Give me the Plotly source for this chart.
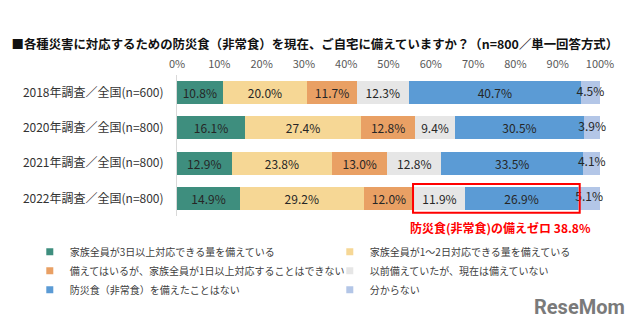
import plotly.graph_objects as go

categories = ["2018年調査／全国(n=600)", "2020年調査／全国(n=800)",
              "2021年調査／全国(n=800)", "2022年調査／全国(n=800)"]
series_names = ["家族全員が3日以上対応できる量を備えている",
                "家族全員が1～2日対応できる量を備えている",
                "備えてはいるが、家族全員が1日以上対応することはできない",
                "以前備えていたが、現在は備えていない",
                "防災食（非常食）を備えたことはない",
                "分からない"]
s1 = [10.8, 16.1, 12.9, 14.9]
s2 = [20.0, 27.4, 23.8, 29.2]
s3 = [11.7, 12.8, 13.0, 12.0]
s4 = [12.3, 9.4, 12.8, 11.9]
s5 = [40.7, 30.5, 33.5, 26.9]
s6 = [4.5, 3.9, 4.1, 5.1]
tick_vals = [0, 10, 20, 30, 40, 50, 60, 70, 80, 90, 100]
colors = ["#3E8E7E", "#F6D795", "#E9A064", "#E6E6E6", "#5B9BD5", "#B3C6E7"]

series = [s1, s2, s3, s4, s5, s6]
FONT = "Noto Sans CJK JP"

fig = go.Figure()
for i, (name, vals, col) in enumerate(zip(series_names, series, colors)):
    narrow = i == len(series) - 1
    fig.add_trace(go.Bar(
        y=categories, x=vals, orientation="h", name=name,
        marker=dict(color=col, line=dict(width=0)),
        text=None if narrow else [f"{v:.1f}%" for v in vals],
        textposition="inside",
        insidetextanchor="middle", textangle=0,
        textfont=dict(size=12, color="#262626", family=FONT),
        showlegend=False, hoverinfo="skip"))

# labels for the narrow last segment (allowed to overflow the bar)
starts = [sum(s[j] for s in series[:-1]) for j in range(len(categories))]
fig.add_trace(go.Scatter(
    x=[st + v / 2 for st, v in zip(starts, s6)], y=categories, mode="text",
    text=[f"{v:.1f}%" for v in s6], textposition="middle center",
    textfont=dict(size=12, color="#262626", family=FONT),
    cliponaxis=False, showlegend=False, hoverinfo="skip"))

# legend entries (small square markers)
for name, col in zip(series_names, colors):
    fig.add_trace(go.Scatter(
        x=[None], y=[None], mode="markers", name=name,
        marker=dict(symbol="square", size=7, color=col), showlegend=True))

# red box around "zero preparation" segments of 2022
last = len(categories) - 1
x0 = s1[last] + s2[last] + s3[last]
x1 = x0 + s4[last] + s5[last]
fig.add_shape(type="rect", xref="x", yref="y",
              x0=x0 - 0.3, x1=x1 + 0.3, y0=last - 0.41, y1=last + 0.41,
              line=dict(color="#FF0000", width=2), fillcolor="rgba(0,0,0,0)")
zero_total = s4[last] + s5[last]
fig.add_annotation(xref="x", yref="paper", x=x0 - 1.5, y=-0.085,
                   xanchor="left", yanchor="middle", showarrow=False,
                   text=f"<b>防災食(非常食)の備えゼロ {zero_total:.1f}%</b>",
                   font=dict(size=12, color="#FF0000", family=FONT))

# logo text
fig.add_annotation(xref="paper", yref="paper", x=1.065, y=-0.645,
                   xanchor="right", yanchor="middle", showarrow=False,
                   text="<b>ReseMom</b>",
                   font=dict(size=20, color="#7A7A7A", family="Roboto"))

fig.update_layout(
    width=640, height=334,
    margin=dict(l=177, r=40, t=75, b=118, autoexpand=False),
    paper_bgcolor="white", plot_bgcolor="white",
    barmode="stack", bargap=0.35,
    font=dict(family=FONT, color="#333333"),
    title=dict(text="<b>■各種災害に対応するための防災食（非常食）を現在、ご自宅に備えていますか？（n=800／単一回答方式）</b>",
               x=0.018, xanchor="left", xref="container",
               y=1 - 45 / 334, yanchor="middle", yref="container",
               font=dict(size=12.4, color="#111111", family=FONT)),
    xaxis=dict(side="top", range=[0, 100], tickvals=tick_vals,
               ticktext=[f"{v}%" for v in tick_vals], showgrid=False,
               zeroline=False, showline=False, ticks="",
               ticklabelstandoff=4,
               tickfont=dict(size=11, color="#595959", family=FONT)),
    yaxis=dict(categoryorder="array", categoryarray=categories,
               autorange="reversed", showgrid=False, zeroline=False,
               showline=True, linecolor="#D9D9D9", linewidth=1, ticks="",
               ticklabelstandoff=10,
               tickfont=dict(size=12, color="#333333", family=FONT)),
    uniformtext=dict(minsize=12, mode="show"),
    legend=dict(orientation="h", x=-0.348, y=-0.15, xanchor="left", yanchor="top",
                entrywidth=255, entrywidthmode="pixels", traceorder="normal",
                font=dict(size=10, color="#404040", family=FONT),
                itemsizing="trace", bgcolor="rgba(0,0,0,0)"),
)

fig.write_html("out.html")
